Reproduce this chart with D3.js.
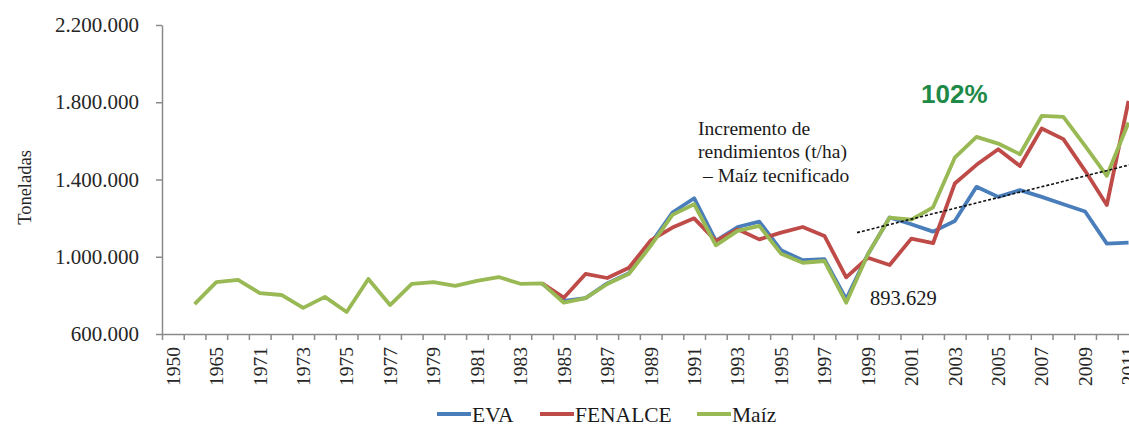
<!DOCTYPE html>
<html>
<head>
<meta charset="utf-8">
<script src="https://cdn.jsdelivr.net/npm/d3@7"></script>
<style>
  html, body { margin: 0; padding: 0; background: #fff; overflow: hidden; }
  svg { display: block; }
</style>
</head>
<body>
<svg id="chart" width="1129" height="430"></svg>
<script>
// ---------- DATA ----------
const categories = ["1950","1960","1965","1970","1971","1972","1973","1974","1975","1976","1977","1978","1979","1980",
  "1981","1982","1983","1984","1985","1986","1987","1988","1989","1990","1991","1992","1993","1994","1995","1996",
  "1997","1998","1999","2000","2001","2002","2003","2004","2005","2006","2007","2008","2009","2010","2011"];

const seriesNames = ["EVA", "FENALCE", "Maíz"];

const evaValues = [null,null,null,null,null,null,null,null,null,null,null,null,null,null,
  null,null,null,862000,771000,786000,862000,915000,1068000,1229000,1303000,1082000,1154000,1182000,1034000,982000,
  987000,781000,1013000,1203000,1168000,1130000,1185000,1362000,1310000,1345000,1310000,1272000,1234000,1068000,1073000];

const fenalceValues = [null,null,null,null,null,null,null,null,null,null,null,null,null,null,
  null,null,null,862000,788000,911000,890000,943000,1085000,1151000,1199000,1082000,1142000,1090000,1125000,1154000,
  1108000,893629,995000,957000,1094000,1070000,1379000,1476000,1557000,1470000,1664000,1609000,1445000,1268000,1807000];

const maizValues = [null,755000,869000,880000,812000,802000,735000,792000,714000,885000,750000,860000,869000,849000,
  875000,895000,860000,862000,762000,786000,859000,912000,1056000,1217000,1272000,1059000,1134000,1160000,1016000,969000,
  978000,762000,1013000,1203000,1192000,1256000,1513000,1621000,1586000,1531000,1729000,1724000,1574000,1419000,1695000];

const yTickValues = [600000, 1000000, 1400000, 1800000, 2200000];

// trend line (Incremento de rendimientos) endpoints: years (fractional) and values
const trendYears = [1998.5, 2012];
const trendValues = [1125000, 1502000];

const yAxisTitle = "Toneladas";
const annotationLines = ["Incremento de", "rendimientos (t/ha)", "\u2013 Maíz tecnificado"];
const minLabel = "893.629";
const pctLabel = "102%";

// ---------- LAYOUT / STYLE ----------
const colors = ["#4a7ebb", "#be4b48", "#98b954"];
const serif = "'Liberation Serif', 'Times New Roman', serif";
const plotLeft = 162, plotTop = 25, plotBottom = 334, step = 21.72;

const svg = d3.select("#chart");
svg.append("rect").attr("width", 1129).attr("height", 430).attr("fill", "#fff");

const x = d3.scaleBand().domain(categories).range([plotLeft, plotLeft + step * categories.length]).padding(0);
const xi = d3.scaleLinear().domain([0, categories.length]).range([plotLeft, plotLeft + step * categories.length]);
const y = d3.scaleLinear().domain([600000, 2200000]).range([plotBottom, plotTop]);

const fmt = d => d3.format(",")(d).replace(/,/g, ".");

// Y axis
const yAxis = svg.append("g").attr("transform", `translate(${plotLeft},0)`)
  .call(d3.axisLeft(y).tickValues(yTickValues).tickSize(6).tickSizeOuter(0).tickPadding(17).tickFormat(fmt));
yAxis.select(".domain").attr("stroke", "#8a8a8a").attr("stroke-width", 1.5);
yAxis.selectAll(".tick line").attr("stroke", "#8a8a8a").attr("stroke-width", 1.5);
yAxis.selectAll(".tick text").attr("font-family", serif).attr("font-size", 21).attr("fill", "#262626");

// X axis: ticks between categories
const xTickAxis = svg.append("g").attr("transform", `translate(0,${plotBottom})`)
  .call(d3.axisBottom(xi).tickValues(d3.range(0, categories.length + 1)).tickSize(6).tickSizeOuter(0).tickFormat(""));
xTickAxis.select(".domain").attr("stroke", "#8a8a8a").attr("stroke-width", 1.5);
xTickAxis.selectAll(".tick line").attr("stroke", "#8a8a8a").attr("stroke-width", 1.5);

// X labels (every other category)
const xLabAxis = svg.append("g").attr("transform", `translate(0,${plotBottom})`)
  .call(d3.axisBottom(x).tickSize(0).tickFormat((d, i) => i % 2 === 0 ? d : ""));
xLabAxis.select(".domain").remove();
xLabAxis.selectAll(".tick text")
  .attr("font-family", serif).attr("font-size", 19.5).attr("fill", "#262626")
  .attr("transform", "rotate(-90)")
  .attr("text-anchor", "end")
  .attr("x", -13).attr("y", 0).attr("dy", "0.35em");

// Y axis title
svg.append("text")
  .attr("transform", `translate(31,${(plotTop + plotBottom) / 2 + 8}) rotate(-90)`)
  .attr("text-anchor", "middle")
  .attr("font-family", serif).attr("font-size", 18.5).attr("fill", "#262626")
  .text(yAxisTitle);

// Lines
const allSeries = [evaValues, fenalceValues, maizValues];
const line = d3.line()
  .defined(d => d.v !== null)
  .x(d => x(d.c) + x.bandwidth() / 2)
  .y(d => y(d.v));

allSeries.forEach((vals, si) => {
  const pts = categories.map((c, i) => ({ c, v: vals[i] }));
  svg.append("path")
    .datum(pts)
    .attr("fill", "none")
    .attr("stroke", colors[si])
    .attr("stroke-width", 3.8)
    .attr("stroke-linejoin", "round")
    .attr("d", line);
});

// Trend line
const idxOf = yr => categories.indexOf("1999") + (yr - 1999);
svg.append("line")
  .attr("x1", xi(idxOf(trendYears[0]) + 0.5)).attr("y1", y(trendValues[0]))
  .attr("x2", xi(idxOf(trendYears[1]) + 0.5)).attr("y2", y(trendValues[1]))
  .attr("stroke", "#111").attr("stroke-width", 1.6).attr("stroke-dasharray", "3,2");

// Annotation
const ann = svg.append("text").attr("font-family", serif).attr("font-size", 19.5).attr("fill", "#1a1a1a");
ann.selectAll("tspan").data(annotationLines).join("tspan")
  .attr("x", (d, i) => i === 2 ? 703 : 698)
  .attr("y", (d, i) => 135 + i * 23.3)
  .text(d => d);

// 893.629 label
svg.append("text").attr("x", 870).attr("y", 305)
  .attr("font-family", serif).attr("font-size", 20.5).attr("fill", "#1a1a1a")
  .text(minLabel);

// 102% label
svg.append("text").attr("x", 921).attr("y", 103)
  .attr("font-family", "'Liberation Sans', Arial, sans-serif").attr("font-weight", "bold")
  .attr("font-size", 26).attr("fill", "#1f8a47")
  .text(pctLabel);

// Legend
const legendX = [437, 540, 697];
seriesNames.forEach((name, i) => {
  svg.append("line")
    .attr("x1", legendX[i]).attr("x2", legendX[i] + 34)
    .attr("y1", 414).attr("y2", 414)
    .attr("stroke", colors[i]).attr("stroke-width", 3.8);
  svg.append("text")
    .attr("x", legendX[i] + 35).attr("y", 422)
    .attr("font-family", serif).attr("font-size", 21.5).attr("fill", "#1a1a1a")
    .text(name);
});
</script>
</body>
</html>
